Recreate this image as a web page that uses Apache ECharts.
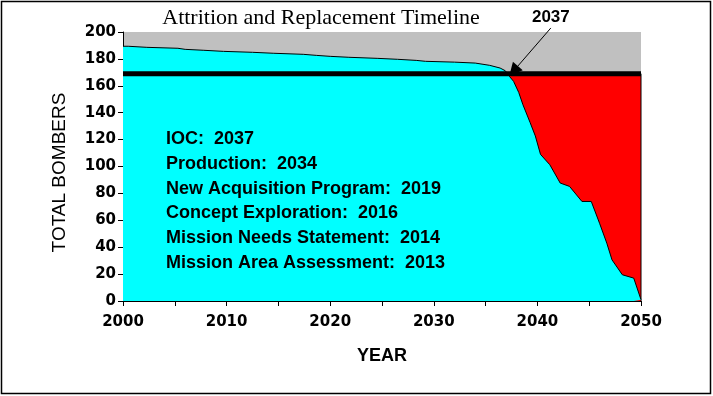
<!DOCTYPE html>
<html>
<head>
<meta charset="utf-8">
<script src="https://cdn.jsdelivr.net/npm/echarts@6/dist/echarts.min.js"></script>
<style>
html,body{margin:0;padding:0;background:#fff;}
#c{width:713px;height:396px;}
</style>
</head>
<body>
<div id="c"></div>
<script>
// ---- data ----
const titleText = 'Attrition and Replacement Timeline';
const xTicks = [2000, 2010, 2020, 2030, 2040, 2050];
const yTicks = [0, 20, 40, 60, 80, 100, 120, 140, 160, 180, 200];
// inventory (total bombers) [year, count]
const inventory = [
  [2000, 189.4], [2000.5, 189.4], [2000.5, 188.6], [2002.3, 188.6], [2002.3, 187.9],
  [2005.3, 187.9], [2005.3, 187.1], [2006, 187.1], [2006, 186.4], [2007.8, 186.4],
  [2007.8, 185.6], [2009.7, 185.6], [2009.7, 184.9], [2012.5, 184.9], [2012.5, 184.2],
  [2014.5, 184.2], [2014.5, 183.4], [2017.4, 183.4], [2017.4, 182.6], [2018.7, 182.6],
  [2018.7, 181.9], [2020, 181.9], [2020, 181.2], [2021.8, 181.2], [2021.8, 180.4],
  [2024.6, 180.4], [2024.6, 179.7], [2026.5, 179.7], [2026.5, 178.9], [2028.3, 178.9],
  [2028.3, 178.2], [2029.2, 178.2], [2029.2, 177.6], [2032, 177.6], [2032, 176.9],
  [2034, 176.9], [2034, 176.1], [2035.4, 175.2], [2036.4, 173.2], [2036.9, 171.2],
  [2037.3, 167], [2037.7, 163.3], [2038.2, 155], [2038.6, 146], [2039.3, 132.6],
  [2039.8, 122.7], [2040.3, 109], [2041.2, 101.3], [2042.2, 87.7], [2043.1, 85.2],
  [2044.3, 74], [2045.2, 74], [2046, 57.8], [2046.7, 43], [2047.2, 30.6],
  [2048.2, 19.5], [2049.3, 17], [2050, 1]
];
// requirement line
const requirement = 169;
const reqStart = 2000, reqEnd = 2050;
// shortfall (red) region
const shortfall = [[2037.1, 169], [2050, 169], [2050, 0]];
// annotation
const iocYear = 2037;
const arrowFrom = [2041.3, 203];
const arrowTo = [2037.7, 171];
const milestones = [
  'IOC:  2037',
  'Production:  2034',
  'New Acquisition Program:  2019',
  'Concept Exploration:  2016',
  'Mission Needs Statement:  2014',
  'Mission Area Assessment:  2013'
];

const chart = echarts.init(document.getElementById('c'), null, {renderer: 'canvas'});
const sans = 'Liberation Sans, Arial, sans-serif';

const option = {
  animation: false,
  backgroundColor: '#fff',
  title: {
    text: titleText,
    left: 316, top: 2, textAlign: 'center',
    textStyle: {fontFamily: 'Liberation Serif, Times New Roman, serif', fontWeight: 'normal', fontSize: 22, color: '#000'}
  },
  grid: {
    left: 123, right: 72, top: 32, bottom: 95,
    show: true, backgroundColor: '#c0c0c0', borderWidth: 0
  },
  xAxis: {
    type: 'value', min: 2000, max: 2050, interval: 5,
    name: 'YEAR', nameLocation: 'middle', nameGap: 46,
    nameTextStyle: {fontFamily: sans, fontWeight: 'bold', fontSize: 18, color: '#000'},
    axisLine: {show: true, lineStyle: {color: '#000', width: 1}},
    axisTick: {show: true, length: 5, lineStyle: {color: '#000'}},
    splitLine: {show: false},
    axisLabel: {
      margin: 14, color: '#000', fontFamily: 'DejaVu Sans', fontWeight: 'bold', fontSize: 15,
      formatter: v => xTicks.indexOf(v) >= 0 ? String(v) : ''
    }
  },
  yAxis: {
    type: 'value', min: 0, max: 200, interval: 20,
    name: 'TOTAL BOMBERS', nameLocation: 'middle', nameGap: 54, nameRotate: 90,
    nameTextStyle: {fontFamily: sans, fontWeight: 'normal', fontSize: 19, color: '#000', padding: [0, 12, 0, 0]},
    axisLine: {show: true, lineStyle: {color: '#000', width: 1}},
    axisTick: {show: true, length: 5, lineStyle: {color: '#000'}},
    splitLine: {show: false},
    axisLabel: {
      margin: 7, color: '#000', fontFamily: 'DejaVu Sans', fontWeight: 'bold', fontSize: 15,
      formatter: v => yTicks.indexOf(v) >= 0 ? String(v) : ''
    }
  },
  series: [
    {
      name: 'shortfall', type: 'line', data: shortfall, symbol: 'none', z: 2,
      lineStyle: {color: '#000', width: 1},
      areaStyle: {color: '#ff0000', opacity: 1, origin: 'start'}
    },
    {
      name: 'inventory', type: 'line', data: inventory, symbol: 'none', z: 3,
      lineStyle: {color: '#000', width: 1},
      areaStyle: {color: '#00ffff', opacity: 1, origin: 'start'}
    },
    {
      name: 'requirement', type: 'line', data: [[reqStart, requirement], [reqEnd, requirement]],
      symbol: 'none', z: 4, lineStyle: {color: '#000', width: 5}
    },
    {
      name: 'arrow', type: 'lines', coordinateSystem: 'cartesian2d', clip: false, z: 5,
      symbol: ['none', 'triangle'], symbolSize: 13,
      lineStyle: {color: '#000', width: 1, opacity: 1},
      data: [{coords: [arrowFrom, arrowTo]}]
    }
  ]
};
chart.setOption(option);

const textPos = chart.convertToPixel({gridIndex: 0}, [2004.15, 120.4]);
const lblPos = chart.convertToPixel({gridIndex: 0}, [2041.3, 211]);
const graphics = [
  {type: 'rect', shape: {x: 1.5, y: 1.5, width: 709, height: 392}, style: {fill: 'none', stroke: '#000', lineWidth: 1.5}, z: 100},
  {type: 'text', x: lblPos[0], y: lblPos[1], style: {text: String(iocYear), fill: '#000', font: 'bold 17px Liberation Sans, Arial, sans-serif', textAlign: 'center', textVerticalAlign: 'middle'}, z: 100}
];
milestones.forEach((m, i) => {
  graphics.push({type: 'text', x: textPos[0], y: textPos[1] + i * 24.8,
    style: {text: m, fill: '#000', font: 'bold 18px Liberation Sans, Arial, sans-serif', textVerticalAlign: 'middle'}, z: 100});
});
chart.setOption({graphic: graphics});
</script>
</body>
</html>
